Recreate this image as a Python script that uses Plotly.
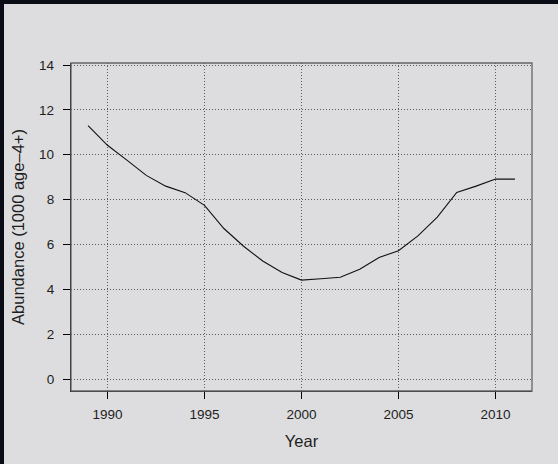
import plotly.graph_objects as go

# Estimated abundance of age-4+ fish (thousands), by year
years = list(range(1989, 2012))
abundance = [11.30, 10.42, 9.76, 9.08, 8.60, 8.31, 7.74, 6.71, 5.93, 5.26,
             4.75, 4.41, 4.47, 4.54, 4.89, 5.42, 5.72, 6.38, 7.22, 8.32,
             8.60, 8.92, 8.91]

x_ticks = [1990, 1995, 2000, 2005, 2010]
y_ticks = [0, 2, 4, 6, 8, 10, 12, 14]

PANEL = "#dddddf"
DARK = "#0b0d16"
TEXT = "#1e1e1e"

W, H = 558, 464
L, R, T, B = 71, 26, 63, 73
pw, ph = W - L - R, H - T - B

fig = go.Figure()
fig.add_trace(go.Scatter(
    x=years, y=abundance, mode="lines",
    line=dict(color="#111111", width=1.1),
    hoverinfo="skip", showlegend=False,
))

base_font = dict(family="Liberation Sans, Arial, sans-serif", size=13.5, color=TEXT)
title_font = dict(family="Liberation Sans, Arial, sans-serif", size=16.5, color=TEXT)

grid = dict(showgrid=True, gridcolor="#5a5a5a", griddash="1px,2px", gridwidth=1,
            zeroline=False,
            showline=True, linecolor="#000000", linewidth=1.3,
            ticks="outside", ticklen=7, tickcolor="#000000", tickwidth=1)

fig.update_layout(
    width=W, height=H,
    margin=dict(l=L, r=R, t=T, b=B, pad=0),
    paper_bgcolor=DARK,
    plot_bgcolor=PANEL,
    font=base_font,
    xaxis=dict(range=[1988.12, 2011.88], tickvals=x_ticks, ticklabelstandoff=4,
               title=dict(text="Year", font=title_font, standoff=14), **grid),
    yaxis=dict(range=[-0.535, 14.09], tickvals=y_ticks, ticklabelstandoff=6,
               title=dict(text="Abundance (1000 age\u20134+)", font=title_font, standoff=10), **grid),
    shapes=[
        # light panel inset inside the dark frame
        dict(type="rect", xref="paper", yref="paper", layer="below",
             x0=(4 - L) / pw, x1=(W - L) / pw,
             y0=-B / ph, y1=1 + (T - 4) / ph,
             fillcolor=PANEL, line=dict(width=0)),
        # grey box around the plotting region (top and right edges)
        dict(type="rect", xref="paper", yref="paper", layer="above",
             x0=0, x1=1, y0=0, y1=1,
             fillcolor="rgba(0,0,0,0)", line=dict(color="#666666", width=1.3)),
    ],
)

fig.write_html("out.html")
